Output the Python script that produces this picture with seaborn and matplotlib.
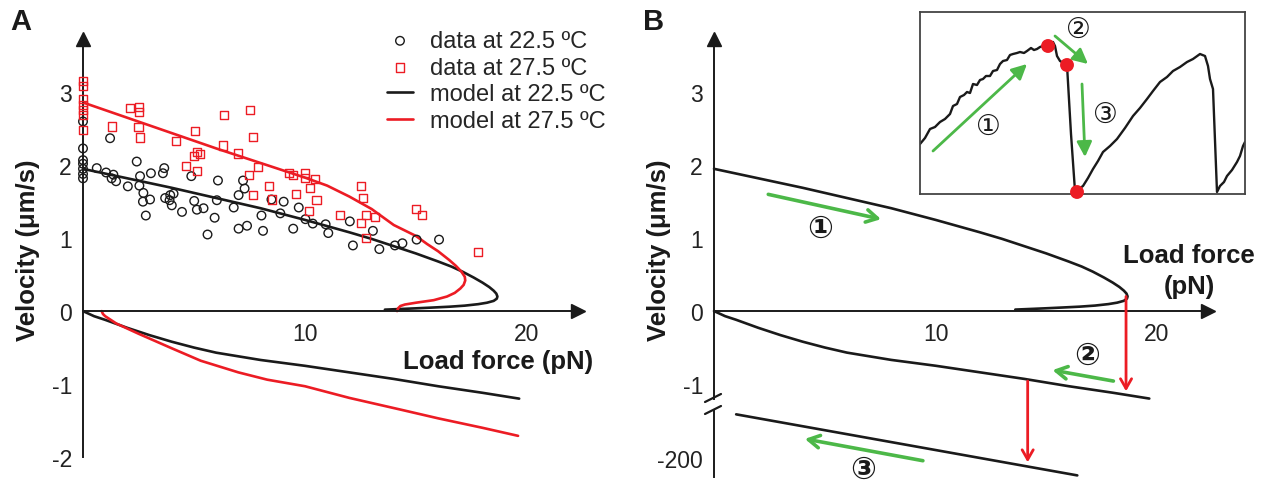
import matplotlib.pyplot as plt
import seaborn as sns
from matplotlib.patches import ConnectionPatch

sns.set_style("white")
plt.rcParams["font.family"] = ["Liberation Sans", "DejaVu Sans"]

RED = "#ec1c24"
GREEN = "#4cb848"
INK = "#1a1a1a"

# ---- panel A: measured velocities ----
c225_force = [0, 0, 0, 0, 0, 0, 0,
              0.62, 1.04, 1.37, 1.29, 1.49, 2.02, 1.22, 2.42, 2.57, 2.54,
              2.72, 2.70, 3.02, 3.06, 2.83, 3.60, 3.66, 3.70, 3.93, 4.08,
              3.90, 4.00, 4.46, 4.88, 5.01, 5.13, 5.43, 5.61, 5.93, 6.03,
              6.08, 6.79, 7.01, 7.21, 7.28, 7.01, 7.39, 8.04, 8.11, 8.49,
              8.89, 9.04, 9.47, 9.72, 10.02, 10.35, 10.93, 11.05, 12.02, 12.16,
              13.06, 13.35, 14.05, 14.39, 15.03, 16.04]
c225_vel = [2.60, 2.23, 2.07, 2.02, 1.95, 1.88, 1.82,
            1.96, 1.90, 1.87, 1.82, 1.78, 1.71, 2.37, 2.05, 1.85, 1.72,
            1.62, 1.50, 1.53, 1.89, 1.31, 1.89, 1.96, 1.55, 1.59, 1.61,
            1.52, 1.45, 1.36, 1.85, 1.51, 1.39, 1.41, 1.05, 1.28, 1.52,
            1.79, 1.42, 1.59, 1.79, 1.68, 1.13, 1.17, 1.31, 1.10, 1.53,
            1.34, 1.50, 1.13, 1.42, 1.26, 1.20, 1.19, 1.07, 1.23, 0.90,
            1.10, 0.85, 0.90, 0.93, 0.98, 0.98]

c275_force = [0, 0, 0, 0, 0, 0, 0,
              1.29, 2.12, 2.54, 2.54, 2.50, 2.57, 4.20, 5.03, 5.13, 5.28,
              5.01, 4.64, 5.13, 6.34, 7.52, 7.67, 6.31, 6.97, 7.87, 7.49,
              8.37, 7.66, 8.52, 9.27, 9.47, 10.02, 10.02, 10.47, 10.22, 9.60,
              10.52, 10.20, 12.51, 12.61, 11.56, 12.75, 13.14, 12.51, 12.75, 15.00,
              15.29, 17.80]
c275_vel = [3.16, 3.09, 2.91, 2.83, 2.76, 2.69, 2.48,
            2.53, 2.79, 2.80, 2.73, 2.52, 2.38, 2.33, 2.47, 2.18, 2.15,
            2.13, 1.99, 1.92, 2.69, 2.76, 2.39, 2.27, 2.16, 1.97, 1.86,
            1.71, 1.59, 1.53, 1.89, 1.86, 1.89, 1.83, 1.81, 1.69, 1.60,
            1.52, 1.37, 1.71, 1.55, 1.32, 1.32, 1.29, 1.21, 1.00, 1.40,
            1.32, 0.81]

# ---- model curves ----
m225_force = [0, 2, 4, 6, 8, 10, 12, 13, 14, 15, 16, 16.6, 17.1, 17.6, 18.0, 18.3,
              18.5, 18.62, 18.67, 18.64, 18.5, 18.2, 17.8, 17.2, 16.5, 15.7, 15.0,
              14.4, 14.0, 13.6]
m225_vel = [1.95, 1.82, 1.69, 1.55, 1.41, 1.25, 1.08, 0.99, 0.89, 0.79, 0.68,
            0.61, 0.54, 0.46, 0.39, 0.33, 0.28, 0.24, 0.20, 0.17, 0.14, 0.115,
            0.095, 0.075, 0.06, 0.048, 0.038, 0.03, 0.025, 0.02]
m225_neg_force = [0, 0.5, 1, 2, 3, 4, 5, 6, 8, 10, 12, 14, 16, 18, 19.65]
m225_neg_vel = [0.0, -0.07, -0.12, -0.23, -0.33, -0.42, -0.50, -0.57, -0.67,
                -0.75, -0.84, -0.93, -1.03, -1.12, -1.20]

m275_force = [0, 2, 4, 6, 8, 10, 11, 12, 13, 14, 15, 15.5, 16, 16.5, 16.8, 17.05,
              17.2, 17.22, 17.15, 17.0, 16.75, 16.4, 15.8, 15.0, 14.5, 14.3, 14.2,
              14.15]
m275_vel = [2.86, 2.65, 2.44, 2.23, 2.03, 1.83, 1.72, 1.57, 1.40, 1.18, 1.03,
            0.92, 0.82, 0.70, 0.62, 0.54, 0.47, 0.42, 0.36, 0.31, 0.25, 0.20,
            0.15, 0.115, 0.09, 0.07, 0.04, 0.0]
m275_neg_force = [0.84, 0.9, 1.0, 1.5, 2.5, 4, 5.3, 7, 8.3, 10, 12, 14.3, 16, 18, 19.6]
m275_neg_vel = [0.0, -0.04, -0.07, -0.17, -0.31, -0.51, -0.68, -0.84, -0.94,
                -1.03, -1.19, -1.35, -1.47, -1.60, -1.71]

# ---- panel B: fast backward branch (broken axis) ----
fast_force = [1.0, 16.4]
fast_vel = [-170, -212]

# ---- inset force trace (arbitrary units) ----
trace_t = [0, 5, 10, 15, 20, 25, 30, 33, 37, 40, 44, 47, 50, 53, 57, 60, 63, 66, 70,
           73, 77, 80, 83, 87, 90, 93, 97, 100, 104, 107, 111, 114, 117, 120, 123,
           128, 133, 135, 137, 140, 147, 151, 155, 157, 160, 163, 168, 173, 178, 183,
           190, 197, 205, 213, 220, 227, 233, 240, 247, 253, 260, 267, 273, 280,
           285, 288, 290, 293, 297, 300, 304, 307, 312, 317, 320, 323, 325]
trace_f = [50, 56, 65, 67, 72, 75, 80, 88, 90, 97, 99, 102, 101, 110, 109, 114, 115,
           118, 118, 123, 124, 130, 133, 134, 139, 140, 141, 142, 141, 143, 146, 144,
           145, 147, 148, 148, 152, 148, 138, 133, 129, 60, 3, 2, 6, 8, 16, 25, 33,
           42, 48, 55, 66, 78, 86, 95, 103, 112, 117, 123, 127, 132, 135, 140, 138,
           128, 115, 105, 2, 8, 12, 18, 24, 32, 38, 48, 52]
dot_t = [128, 147, 157]
dot_f = [148, 129, 2]

fig = plt.figure(figsize=(12.65, 4.85), dpi=100)


def px_box(x0, y0, x1, y1):
    return [x0 / 1265, (485 - y1) / 485, (x1 - x0) / 1265, (y1 - y0) / 485]


def arrow_axes(ax, ylim, yticks, xaxis=True):
    ax.set_xlim(0, 22.3)
    ax.set_ylim(*ylim)
    ax.set_facecolor("none")
    for s in ["top", "right"]:
        ax.spines[s].set_visible(False)
    ax.spines["left"].set_position(("data", 0))
    ax.spines["left"].set_linewidth(1.4)
    ax.spines["left"].set_color(INK)
    ax.set_yticks(yticks)
    ax.set_yticklabels([str(t) for t in yticks])
    if xaxis:
        ax.spines["bottom"].set_position(("data", 0))
        ax.spines["bottom"].set_linewidth(1.4)
        ax.spines["bottom"].set_color(INK)
        ax.set_xticks([10, 20])
        ax.set_xticklabels(["10", "20"])
        ax.plot(1, 0, ">", color=INK, ms=10, transform=ax.get_yaxis_transform(), clip_on=False)
        ax.plot(0, 1, "^", color=INK, ms=10, transform=ax.get_xaxis_transform(), clip_on=False)
    else:
        ax.spines["bottom"].set_visible(False)
        ax.set_xticks([])
    ax.tick_params(direction="in", length=5, width=1.2, labelsize=16.5, pad=8,
                   colors=INK, labelcolor="#222222")
    ax.set_xlabel("")
    ax.set_ylabel("")


# ================= panel A =================
axA = fig.add_axes(px_box(83, 40, 578, 458))
sns.scatterplot(x=c225_force, y=c225_vel, marker="o", s=38, facecolor="none",
                edgecolor=INK, linewidth=1.0, ax=axA, clip_on=False, zorder=3)
h_c225 = axA.collections[-1]
sns.scatterplot(x=c275_force, y=c275_vel, marker="s", s=34, facecolor="none",
                edgecolor=RED, linewidth=1.0, ax=axA, clip_on=False, zorder=3)
h_c275 = axA.collections[-1]
sns.lineplot(x=m225_force, y=m225_vel, sort=False, estimator=None, color=INK, lw=1.9, ax=axA)
h_m225 = axA.lines[-1]
sns.lineplot(x=m225_neg_force, y=m225_neg_vel, sort=False, estimator=None, color=INK, lw=1.9, ax=axA)
sns.lineplot(x=m275_force, y=m275_vel, sort=False, estimator=None, color=RED, lw=1.9, ax=axA)
h_m275 = axA.lines[-1]
sns.lineplot(x=m275_neg_force, y=m275_neg_vel, sort=False, estimator=None, color=RED, lw=1.9, ax=axA)
arrow_axes(axA, (-2, 3.73), [-2, -1, 0, 1, 2, 3])

axA.legend(handles=[h_c225, h_c275, h_m225, h_m275],
           labels=["data at 22.5 ºC", "data at 27.5 ºC", "model at 22.5 ºC", "model at 27.5 ºC"],
           loc="upper left", bbox_to_anchor=(387 / 1265, 1 - 31 / 485),
           bbox_transform=fig.transFigure, frameon=False, fontsize=17,
           handlelength=1.1, handletextpad=0.7, labelspacing=0.2,
           borderaxespad=0, borderpad=0)

fig.text(498 / 1265, 1 - 362 / 485, "Load force (pN)", fontsize=18.5, fontweight="bold",
         ha="center", va="center", color=INK)
fig.text(28 / 1265, 1 - 250 / 485, "Velocity (μm/s)", fontsize=18.5, fontweight="bold",
         ha="center", va="center", rotation=90, color=INK)
fig.text(21 / 1265, 1 - 22 / 485, "A", fontsize=21, fontweight="bold", ha="center",
         va="center", color=INK)

# ================= panel B =================
axB = fig.add_axes(px_box(714, 40, 1208, 400))
sns.lineplot(x=m225_force, y=m225_vel, sort=False, estimator=None, color=INK, lw=1.9,
             ax=axB)
sns.lineplot(x=m225_neg_force, y=m225_neg_vel, sort=False, estimator=None, color=INK,
             lw=1.9, ax=axB)
for ln in axB.lines:
    ln.set_clip_on(False)
arrow_axes(axB, (-1.206, 3.73), [-1, 0, 1, 2, 3])

axB2 = fig.add_axes(px_box(714, 412, 1208, 478))
sns.lineplot(x=fast_force, y=fast_vel, sort=False, estimator=None, color=INK, lw=1.9,
             ax=axB2)
axB2.lines[-1].set_clip_on(False)
arrow_axes(axB2, (-213.1, -167.7), [-200], xaxis=False)

# break marks on the velocity axis
for y0 in (403, 415):
    fig.add_artist(plt.Line2D([705 / 1265, 721 / 1265],
                              [1 - y0 / 485, 1 - (y0 - 8) / 485],
                              color=INK, lw=1.6))

# red transitions
red_head = "->,head_length=0.7,head_width=0.4"
axB.annotate("", xy=(18.6, -1.10), xytext=(18.6, 0.2),
             arrowprops=dict(arrowstyle=red_head, color=RED, lw=2, shrinkA=0, shrinkB=0))
con = ConnectionPatch(xyA=(14.16, -0.96), coordsA=axB.transData,
                      xyB=(14.16, -203), coordsB=axB2.transData,
                      arrowstyle=red_head, color=RED, lw=2, shrinkA=0, shrinkB=0)
fig.add_artist(con)

# green direction arrows
green_open = dict(arrowstyle="->,head_length=0.8,head_width=0.45", color=GREEN, lw=2.6,
                  shrinkA=0, shrinkB=0)
axB.annotate("", xy=(7.54, 1.26), xytext=(2.45, 1.60), arrowprops=green_open)
axB.annotate("", xy=(15.28, -0.81), xytext=(18.03, -0.96), arrowprops=green_open)
axB2.annotate("", xy=(4.10, -186.9), xytext=(9.43, -201.9), arrowprops=green_open,
              annotation_clip=False)

circ_kw = dict(fontsize=22, ha="center", va="center", color=INK,
               family=["DejaVu Sans"], fontweight="bold")
axB.text(4.77, 1.13, "①", **circ_kw)
axB.text(16.86, -0.61, "②", **circ_kw)
axB2.text(6.73, -207.6, "③", clip_on=False, **circ_kw)

fig.text(1189 / 1265, 1 - 256 / 485, "Load force", fontsize=18.5, fontweight="bold",
         ha="center", va="center", color=INK)
fig.text(1189 / 1265, 1 - 287 / 485, "(pN)", fontsize=18.5, fontweight="bold",
         ha="center", va="center", color=INK)
fig.text(659 / 1265, 1 - 250 / 485, "Velocity (μm/s)", fontsize=18.5, fontweight="bold",
         ha="center", va="center", rotation=90, color=INK)
fig.text(654 / 1265, 1 - 22 / 485, "B", fontsize=21, fontweight="bold", ha="center",
         va="center", color=INK)

# ---- inset: force trace ----
axI = fig.add_axes(px_box(920, 13, 1245, 195))
sns.lineplot(x=trace_t, y=trace_f, sort=False, estimator=None, color=INK, lw=1.7, ax=axI)
sns.scatterplot(x=dot_t, y=dot_f, s=100, color=RED, edgecolor="none", ax=axI,
                clip_on=False, zorder=4)
axI.set_xlim(0, 325)
axI.set_ylim(0, 182)
axI.set_xticks([])
axI.set_yticks([])
axI.set_xlabel("")
axI.set_ylabel("")
for s in axI.spines.values():
    s.set_visible(True)
    s.set_color("#444444")
    s.set_linewidth(1.3)

green_fill = dict(arrowstyle="-|>,head_length=0.9,head_width=0.45", color=GREEN, lw=2,
                  shrinkA=0, shrinkB=0)
axI.annotate("", xy=(107, 130), xytext=(13, 43), arrowprops=green_fill)
axI.annotate("", xy=(168, 130), xytext=(135, 158), arrowprops=green_fill)
axI.annotate("", xy=(165, 37), xytext=(162, 110), arrowprops=green_fill)
inset_kw = dict(fontsize=20, ha="center", va="center", color=INK,
                family=["DejaVu Sans"])
axI.text(68, 68, "①", **inset_kw)
axI.text(158, 165, "②", **inset_kw)
axI.text(185, 80, "③", **inset_kw)

fig.savefig("out.png", dpi=100)
